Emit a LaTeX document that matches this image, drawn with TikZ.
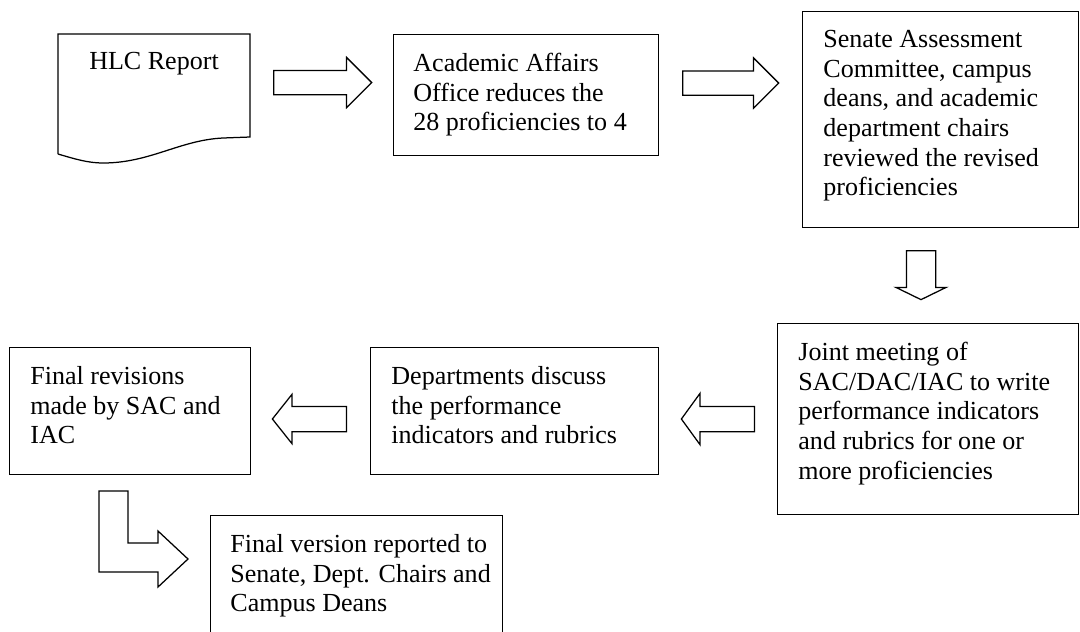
\documentclass[tikz,border=0pt]{standalone}
\usepackage{fontspec}
\setmainfont{Liberation Serif}
\usetikzlibrary{shapes.arrows}

\def\pxunit{0.48pt}

\tikzset{
    stepbox/.style={draw, line width=0.6pt, rectangle, anchor=north west, inner sep=0pt},
    boxtext/.style={anchor=north west, align=left, inner sep=0pt, font=\fontsize{12.5}{14.2}\selectfont},
    blockarrow/.style={draw, line width=0.6pt, single arrow, anchor=tail},
}

\begin{document}
\begin{tikzpicture}[x=\pxunit, y=-\pxunit]
    {
    \useasboundingbox (0,0) rectangle (1080,631);

    \draw[line width=0.6pt] (58,154) -- (58,34) -- (250,34) -- (250,137) -- (223,138)
        .. controls (180,140) and (150,163) .. (103,163)
        .. controls (88,163) and (75,159) .. (58,154);
    \node[boxtext, anchor=north] (hlc) at (154,52) {HLC Report};

    \node[stepbox, minimum width=265*\pxunit, minimum height=121*\pxunit] (acad) at (393,34) {};
    \node[boxtext] (acadtext) at ([shift={(20,19)}]acad.north west) {Academic Affairs\\Office reduces the\\28 proficiencies to 4};

    \node[stepbox, minimum width=276*\pxunit, minimum height=216*\pxunit] (senate) at (802,11) {};
    \node[boxtext] (senatetext) at ([shift={(21,19)}]senate.north west) {Senate Assessment\\Committee, campus\\deans, and academic\\department chairs\\reviewed the revised\\proficiencies};

    \node[stepbox, minimum width=301*\pxunit, minimum height=191*\pxunit] (joint) at (777,323) {};
    \node[boxtext] (jointtext) at ([shift={(21,19)}]joint.north west) {Joint meeting of\\SAC/DAC/IAC to write\\performance indicators\\and rubrics for one or\\more proficiencies};

    \node[stepbox, minimum width=288*\pxunit, minimum height=127*\pxunit] (depts) at (370,347) {};
    \node[boxtext] (deptstext) at ([shift={(21,19)}]depts.north west) {Departments discuss\\the performance\\indicators and rubrics};

    \node[stepbox, minimum width=241*\pxunit, minimum height=127*\pxunit] (final) at (9,347) {};
    \node[boxtext] (finaltext) at ([shift={(21,19)}]final.north west) {Final revisions\\made by SAC and\\IAC};

    \node[stepbox, minimum width=292*\pxunit, minimum height=150*\pxunit] (version) at (210,515) {};
    \node[boxtext] (versiontext) at ([shift={(20,19)}]version.north west) {Final version reported to\\Senate, Dept. Chairs and\\Campus Deans};

    \node[blockarrow, inner sep=11.5*\pxunit, minimum height=98*\pxunit,
        single arrow head extend=13*\pxunit, single arrow tip angle=90] (arrone) at (273,82.5) {};
    \node[blockarrow, inner sep=11.5*\pxunit, minimum height=96*\pxunit,
        single arrow head extend=13*\pxunit, single arrow tip angle=90] (arrtwo) at (682,83) {};
    \node[blockarrow, inner sep=14*\pxunit, shape border rotate=270, minimum height=49*\pxunit,
        single arrow head extend=10.5*\pxunit, single arrow tip angle=128] (arrthree) at (921,250) {};
    \node[blockarrow, inner sep=12*\pxunit, shape border rotate=180, minimum height=73*\pxunit,
        single arrow head extend=13*\pxunit, single arrow tip angle=108] (arrfour) at (755,419) {};
    \node[blockarrow, inner sep=12*\pxunit, shape border rotate=180, minimum height=74*\pxunit,
        single arrow head extend=12*\pxunit, single arrow tip angle=103] (arrfive) at (347,419) {};

    \draw[line width=0.6pt] (99,491) -- (128,491) -- (128,543) -- (158,543) -- (158,531)
        -- (188,559) -- (158,587) -- (158,572) -- (99,572) -- cycle;
    }
\end{tikzpicture}
\end{document}
